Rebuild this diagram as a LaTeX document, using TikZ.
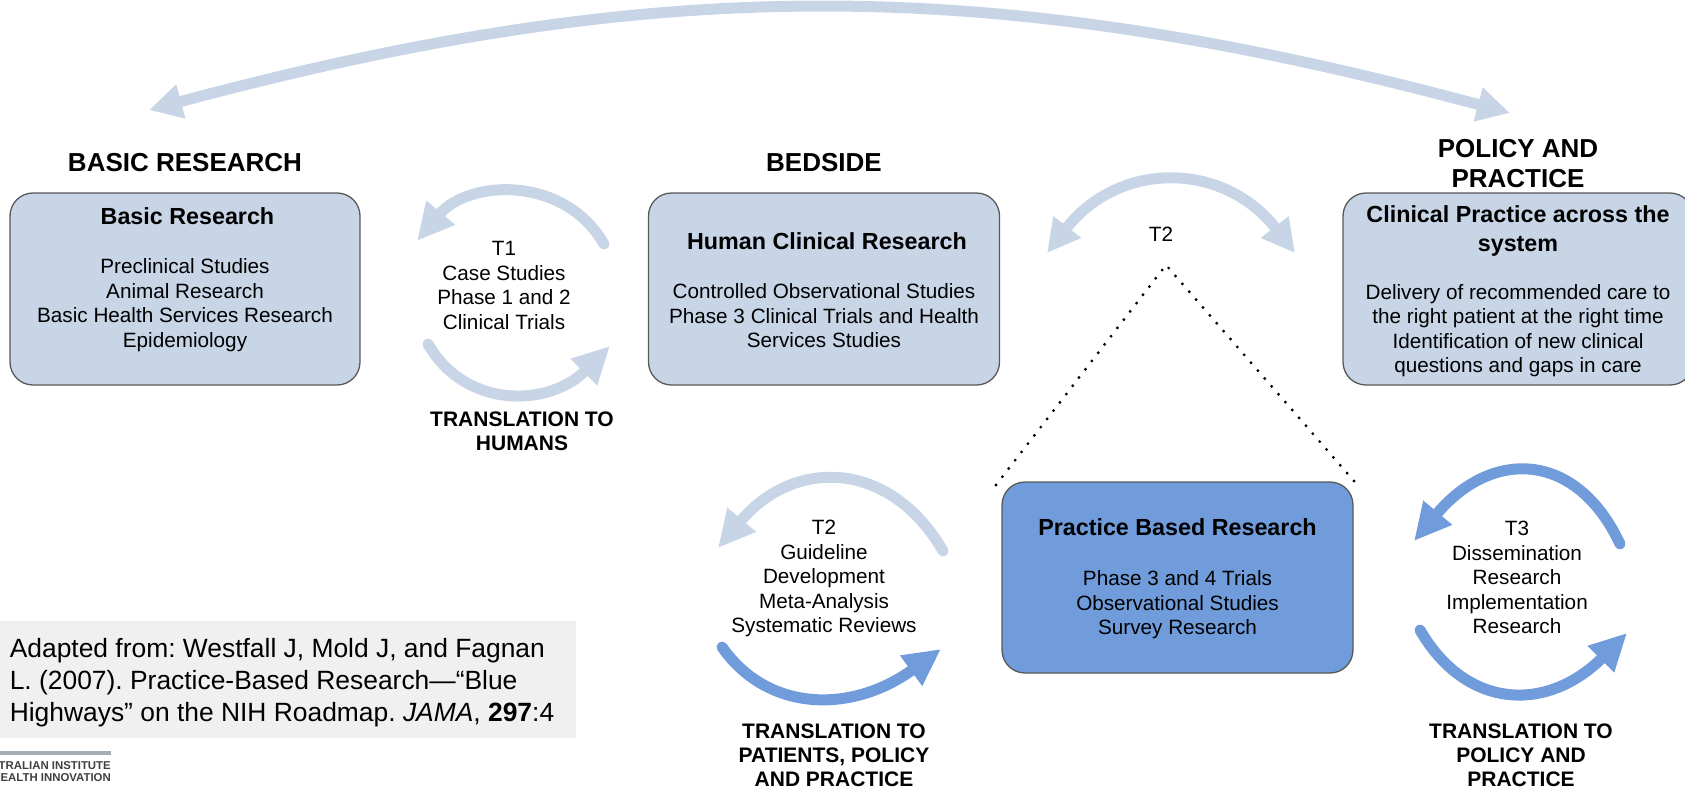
\documentclass[tikz,border=0pt]{standalone}
\usepackage{fontspec}
\setmainfont{Liberation Sans}
\usetikzlibrary{arrows.meta}
\definecolor{paleblue}{HTML}{C8D5E6}
\definecolor{midblue}{HTML}{709CDB}
\definecolor{creditgrey}{HTML}{F0F0F0}
\definecolor{logogrey}{HTML}{A3ADB8}
\begin{document}
\begin{tikzpicture}[x=1pt, y=-1pt,
	box/.style={draw=black!65, line width=1.3pt, rounded corners=23pt, inner sep=0pt, minimum height=192pt},
	heading/.style={font=\fontsize{26}{30}\selectfont\bfseries, align=center},
	boxtitle/.style={font=\fontsize{23.3}{29}\selectfont\bfseries, align=center},
	plain/.style={font=\fontsize{20.7}{24.5}\selectfont, align=center},
	tag/.style={font=\fontsize{21}{24}\selectfont\bfseries, align=center, inner sep=0pt},
	flow/.style={line width=11pt, line cap=round, -{Triangle[length=37pt, width=35pt]}},
	flowboth/.style={line width=11pt, {Triangle[length=33pt, width=33pt]}-{Triangle[length=33pt, width=33pt]}}]
	\useasboundingbox (0,0) rectangle (1685,788);

	% Boxes
	\node[box, fill=paleblue, minimum width=350pt] (basic) at (185,289) {};
	\node[box, fill=paleblue, minimum width=351pt] (human) at (824,289) {};
	\node[box, fill=paleblue, minimum width=350pt] (clinical) at (1518,289) {};
	\node[box, fill=midblue, minimum width=351pt, minimum height=191pt] (practice) at (1177.5,577.5) {};

	% Headings
	\node[heading] (headbasic) at (185,163) {BASIC RESEARCH};
	\node[heading] (headbed) at (824,163) {BEDSIDE};
	\node[heading] (headpolicy) at (1518,164) {POLICY AND\\PRACTICE};

	% Text in the boxes
	\node[boxtitle] (titlebasic) at (187.5,216) {Basic Research};
	\node[plain] (listbasic) at (185,305) {Preclinical Studies\\Animal Research\\Basic Health Services Research\\Epidemiology};
	\node[boxtitle] (titlehuman) at (827,241) {Human Clinical Research};
	\node[plain] (listhuman) at (824,316) {Controlled Observational Studies\\Phase 3 Clinical Trials and Health\\Services Studies};
	\node[boxtitle] (titleclinical) at (1518,230.5) {Clinical Practice across the\\system};
	\node[plain] (listclinical) at (1518,330.5) {Delivery of recommended care to\\the right patient at the right time\\Identification of new clinical\\questions and gaps in care};
	\node[boxtitle] (titlepractice) at (1177.5,527) {Practice Based Research};
	\node[plain] (listpractice) at (1177.5,605) {Phase 3 and 4 Trials\\Observational Studies\\Survey Research};

	% Text between the arrows
	\node[plain] (textone) at (504,285.5) {T1\\Case Studies\\Phase 1 and 2\\Clinical Trials};
	\node[plain] (texttwo) at (1161,234) {T2};
	\node[plain] (textguide) at (824,578.5) {T2\\Guideline\\Development\\Meta-Analysis\\Systematic Reviews};
	\node[plain] (textthree) at (1517,577.5) {T3\\Dissemination\\Research\\Implementation\\Research};
	\node[tag] (tagone) at (522,431) {TRANSLATION TO\\HUMANS};
	\node[tag] (tagtwo) at (834,755.5) {TRANSLATION TO\\PATIENTS, POLICY\\AND PRACTICE};
	\node[tag] (tagthree) at (1521,755.5) {TRANSLATION TO\\POLICY AND\\PRACTICE};

	% Credit and logo
	\node[fill=creditgrey, minimum width=576pt, minimum height=117pt, inner sep=0pt] (creditbox) at (288,679.5) {};
	\node[font=\frenchspacing\fontsize{26.4}{31.7}\selectfont, align=left, anchor=west, inner sep=0pt] (credit) at (9.6,682.5) {Adapted from: Westfall J, Mold J, and Fagnan\\L. (2007). Practice-Based Research—“Blue\\Highways” on the NIH Roadmap. \textit{JAMA}, \textbf{297}:4};
	\node[fill=logogrey, minimum width=111pt, minimum height=4.5pt, inner sep=0pt] (logobar) at (55.5,753) {};
	\node[font=\fontsize{11.4}{12}\selectfont\bfseries, text=black!75, align=right, anchor=east, inner sep=0pt] (logotext) at (111,772) {TRALIAN INSTITUTE\\EALTH INNOVATION};

	% Arrow ends
	\coordinate (topleft) at (149,110);
	\coordinate (topright) at (1510,113);
	\coordinate (oneright) at (604,244);
	\coordinate (oneleft) at (417,241);
	\coordinate (onelowleft) at (428,344);
	\coordinate (onelowright) at (610,346);
	\coordinate (twoleft) at (1047,253);
	\coordinate (tworight) at (1295,253);
	\coordinate (guideright) at (943,551);
	\coordinate (guideleft) at (718,548);
	\coordinate (guidelowleft) at (722,647);
	\coordinate (guidelowright) at (941,649);
	\coordinate (threeright) at (1620,544);
	\coordinate (threeleft) at (1414,541);
	\coordinate (threelowleft) at (1420,630);
	\coordinate (threelowright) at (1627,633);
	\coordinate (dotapex) at (1166,265);
	\coordinate (dotleft) at (996,485);
	\coordinate (dotright) at (1354,481);

	% Links
	\draw[flowboth, paleblue] (topleft) .. controls +(15:533pt) and +(165:533pt) .. (topright);
	\draw[flow, paleblue] (oneright) to[out=120, in=50, out distance=80pt, in distance=80pt] (oneleft);
	\draw[flow, paleblue] (onelowleft) to[out=-60, in=225, out distance=76pt, in distance=86pt] (onelowright);
	\draw[flowboth, paleblue] (twoleft) to[out=52, in=128, out distance=117pt, in distance=117pt] (tworight);
	\draw[flow, paleblue] (guideright) to[out=120, in=50, out distance=105pt, in distance=119pt] (guideleft);
	\draw[flow, midblue] (guidelowleft) to[out=-55, in=216, out distance=80pt, in distance=110pt] (guidelowright);
	\draw[flow, midblue] (threeright) to[out=115, in=50, out distance=102pt, in distance=122pt] (threeleft);
	\draw[flow, midblue] (threelowleft) to[out=-60, in=225, out distance=92pt, in distance=113pt] (threelowright);

	% Dotted lines
	\draw[line width=3.2pt, line cap=round, dash pattern=on 0pt off 10.45pt] (dotleft) -- (dotapex) -- (dotright);
\end{tikzpicture}
\end{document}
